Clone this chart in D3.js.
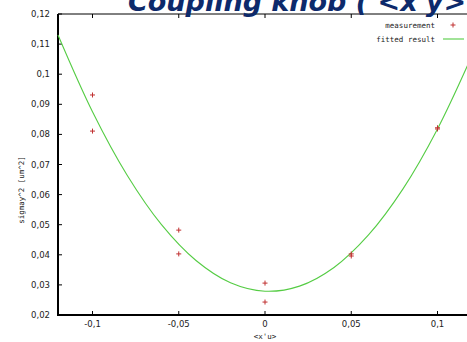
<!DOCTYPE html>
<html>
<head>
<meta charset="utf-8">
<script src="https://cdn.jsdelivr.net/npm/d3@7"></script>
<style>
  body { margin: 0; background: #fff; }
  svg { display: block; }
</style>
</head>
<body>
<div id="chart"></div>
<script>
// data
var measX = [-0.1, -0.1, -0.05, -0.05, 0, 0, 0.05, 0.05, 0.1, 0.1];
var measY = [0.0931, 0.0811, 0.0482, 0.0403, 0.0306, 0.0243, 0.0403, 0.0396, 0.0818, 0.0822];
var fitX = [-0.12, -0.10, -0.08, -0.06, -0.04, -0.02, 0, 0.02, 0.04, 0.06, 0.08, 0.10, 0.12];
var fitY = [0.1130, 0.0875, 0.0665, 0.0500, 0.0381, 0.0307, 0.0279, 0.0296, 0.0358, 0.0466, 0.0619, 0.0818, 0.1062];
var xTicks = [-0.1, -0.05, 0, 0.05, 0.1];
var yTicks = [0.02, 0.03, 0.04, 0.05, 0.06, 0.07, 0.08, 0.09, 0.1, 0.11, 0.12];

var W = 467, H = 342;
var padL = 58, padT = 14, padB = 315, padR = 472;

var svg = d3.select("#chart").append("svg")
  .attr("width", W).attr("height", H);

var x = d3.scaleLinear().domain([-0.12, 0.12]).range([padL, padR]);
var y = d3.scaleLinear().domain([0.02, 0.12]).range([padB, padT]);

var fmt = function(d) { return String(d).replace(".", ","); };
var tickFont = "'DejaVu Sans', sans-serif";
var red = "#c03030", green = "#55cc44";

// frame
svg.append("line").attr("x1", padL).attr("x2", padR).attr("y1", padT).attr("y2", padT)
  .attr("stroke", "#000").attr("stroke-width", 1);
svg.append("line").attr("x1", padR).attr("x2", padR).attr("y1", padT).attr("y2", padB)
  .attr("stroke", "#000").attr("stroke-width", 1);

// ticks, gnuplot style (inward, mirrored)
var gx = svg.append("g");
xTicks.forEach(function(t) {
  gx.append("line").attr("x1", x(t)).attr("x2", x(t)).attr("y1", padB).attr("y2", padB - 4).attr("stroke", "#000");
  gx.append("line").attr("x1", x(t)).attr("x2", x(t)).attr("y1", padT).attr("y2", padT + 4).attr("stroke", "#000");
  gx.append("text").attr("x", x(t)).attr("y", 327).attr("text-anchor", "middle")
    .attr("font-family", tickFont).attr("font-size", 8.5).attr("fill", "#222").text(fmt(t));
});
var gy = svg.append("g");
yTicks.forEach(function(t) {
  gy.append("line").attr("x1", padL).attr("x2", padL + 4).attr("y1", y(t)).attr("y2", y(t)).attr("stroke", "#000");
  gy.append("text").attr("x", 50).attr("y", y(t) + 3).attr("text-anchor", "end")
    .attr("font-family", tickFont).attr("font-size", 8.5).attr("fill", "#222").text(fmt(t));
});

// thick left and bottom axes
svg.append("line").attr("x1", padL).attr("x2", padL).attr("y1", padT).attr("y2", padB + 1)
  .attr("stroke", "#000").attr("stroke-width", 2);
svg.append("line").attr("x1", padL - 1).attr("x2", padR).attr("y1", padB).attr("y2", padB)
  .attr("stroke", "#000").attr("stroke-width", 2);

// fitted curve
var line = d3.line()
  .x(function(d) { return x(d[0]); })
  .y(function(d) { return y(d[1]); })
  .curve(d3.curveCatmullRom);
svg.append("path")
  .datum(d3.zip(fitX, fitY))
  .attr("d", line)
  .attr("fill", "none").attr("stroke", green).attr("stroke-width", 1.1);

// measurement points, small "+"
function addPlus(g) {
  g.append("line").attr("x1", -2.5).attr("x2", 2.5).attr("stroke", red).attr("stroke-width", 1);
  g.append("line").attr("y1", -2.5).attr("y2", 2.5).attr("stroke", red).attr("stroke-width", 1);
}
svg.selectAll(".meas").data(d3.zip(measX, measY)).enter().append("g")
  .attr("class", "meas")
  .attr("transform", function(d) { return "translate(" + x(d[0]) + "," + y(d[1]) + ")"; })
  .each(function() { addPlus(d3.select(this)); });

// legend
var legFont = "'DejaVu Sans Mono', monospace";
svg.append("text").attr("x", 435).attr("y", 28).attr("text-anchor", "end")
  .attr("font-family", legFont).attr("font-size", 7.5).attr("fill", "#222").text("measurement");
addPlus(svg.append("g").attr("transform", "translate(453,25)"));
svg.append("text").attr("x", 435).attr("y", 42).attr("text-anchor", "end")
  .attr("font-family", legFont).attr("font-size", 7.5).attr("fill", "#222").text("fitted result");
svg.append("line").attr("x1", 443).attr("x2", 464).attr("y1", 39).attr("y2", 39)
  .attr("stroke", green).attr("stroke-width", 1.1);

// axis labels
svg.append("text").attr("transform", "translate(24,190) rotate(-90)").attr("text-anchor", "middle")
  .attr("font-family", legFont).attr("font-size", 7.5).attr("fill", "#222").text("sigmay^2 [um^2]");
svg.append("text").attr("x", x(0)).attr("y", 339).attr("text-anchor", "middle")
  .attr("font-family", legFont).attr("font-size", 7.5).attr("fill", "#222").text("<x'u>");

// title, cut by the top edge
svg.append("text").attr("x", 128).attr("y", 11)
  .attr("font-family", "'DejaVu Sans', Verdana, sans-serif").attr("font-weight", "bold")
  .attr("font-style", "italic").attr("font-size", 27).attr("fill", "#0d2a6b")
  .text("Coupling knob ( <x'y> )");
</script>
</body>
</html>
